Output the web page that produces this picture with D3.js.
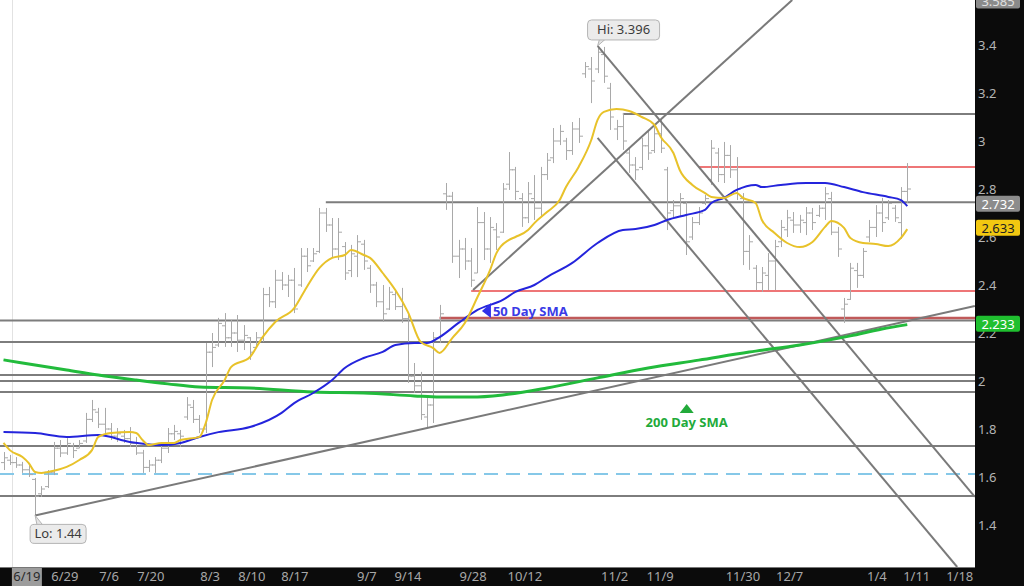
<!DOCTYPE html>
<html>
<head>
<meta charset="utf-8">
<script src="https://cdn.jsdelivr.net/npm/d3@7/dist/d3.min.js"></script>
<style>
body { margin: 0; background: #fff; }
svg { display: block; font-family: "Noto Sans", "Open Sans", sans-serif; }
</style>
</head>
<body>
<script>
// daily bars [open, high, low, close], one per trading day from 6/19
const ohlc = [
    [1.66,1.704,1.629,1.68],[1.67,1.692,1.650,1.66],[1.66,1.683,1.638,1.65],[1.65,1.663,1.617,1.63],
    [1.63,1.650,1.600,1.61],[1.59,1.596,1.440,1.52],[1.53,1.562,1.517,1.55],[1.56,1.629,1.554,1.62],
    [1.62,1.746,1.608,1.72],[1.72,1.754,1.683,1.70],[1.70,1.762,1.692,1.74],[1.73,1.742,1.679,1.71],
    [1.72,1.754,1.721,1.74],[1.75,1.867,1.742,1.84],[1.84,1.921,1.829,1.88],[1.87,1.888,1.804,1.82],
    [1.82,1.888,1.783,1.80],[1.80,1.825,1.754,1.77],[1.77,1.804,1.746,1.78],[1.77,1.796,1.742,1.76],
    [1.76,1.808,1.725,1.74],[1.74,1.767,1.692,1.70],[1.70,1.713,1.617,1.64],[1.64,1.671,1.621,1.65],
    [1.65,1.683,1.617,1.67],[1.67,1.733,1.658,1.72],[1.72,1.804,1.700,1.78],[1.78,1.817,1.754,1.79],
    [1.78,1.796,1.725,1.77],[1.85,1.933,1.838,1.90],[1.89,1.921,1.825,1.84],[1.84,1.858,1.783,1.80],
    [1.80,2.158,1.783,2.12],[2.12,2.200,2.058,2.14],[2.15,2.263,2.142,2.24],[2.23,2.283,2.142,2.18],
    [2.18,2.254,2.142,2.20],[2.20,2.275,2.121,2.17],[2.17,2.233,2.129,2.19],[2.18,2.183,2.088,2.12],
    [2.14,2.204,2.142,2.18],[2.18,2.388,2.163,2.36],[2.36,2.392,2.308,2.33],[2.33,2.463,2.304,2.42],
    [2.42,2.454,2.379,2.40],[2.40,2.442,2.350,2.42],[2.42,2.471,2.283,2.30],[2.40,2.554,2.392,2.52],
    [2.52,2.554,2.454,2.48],[2.50,2.554,2.496,2.53],[2.54,2.721,2.533,2.70],[2.70,2.721,2.621,2.65],
    [2.65,2.679,2.513,2.55],[2.55,2.679,2.504,2.62],[2.56,2.579,2.421,2.45],[2.46,2.567,2.433,2.53],
    [2.52,2.608,2.433,2.58],[2.57,2.588,2.463,2.50],[2.47,2.483,2.367,2.40],[2.40,2.413,2.308,2.33],
    [2.33,2.400,2.246,2.28],[2.30,2.392,2.296,2.37],[2.36,2.379,2.296,2.31],[2.31,2.388,2.242,2.26],
    [2.26,2.275,1.992,2.02],[2.02,2.075,1.950,1.98],[1.98,2.038,1.838,1.86],[1.85,1.929,1.808,1.90],
    [1.90,2.204,1.825,2.18],[2.18,2.317,2.158,2.28],[2.78,2.825,2.713,2.77],[2.77,2.788,2.492,2.52],
    [2.52,2.588,2.429,2.55],[2.55,2.596,2.463,2.50],[2.50,2.554,2.392,2.42],[2.45,2.725,2.450,2.66],
    [2.66,2.704,2.504,2.55],[2.55,2.683,2.492,2.64],[2.63,2.658,2.546,2.60],[2.62,2.825,2.617,2.80],
    [2.82,2.954,2.796,2.88],[2.88,2.892,2.754,2.79],[2.76,2.783,2.642,2.68],[2.68,2.829,2.658,2.78],
    [2.76,2.858,2.671,2.72],[2.72,2.892,2.683,2.86],[2.86,2.950,2.838,2.92],[2.93,3.054,2.908,3.00],
    [3.00,3.067,2.983,3.04],[3.00,3.013,2.921,2.96],[2.96,3.079,2.942,3.05],[3.05,3.096,2.992,3.02],
    [3.28,3.329,3.263,3.31],[3.30,3.350,3.158,3.25],[3.30,3.396,3.283,3.37],[3.36,3.392,3.242,3.27],
    [3.22,3.242,3.046,3.10],[3.05,3.088,3.004,3.06],[3.06,3.117,2.963,3.00],[2.95,2.975,2.867,2.90],
    [2.90,2.933,2.838,2.88],[2.89,3.013,2.879,2.98],[2.98,3.046,2.921,2.95],[2.96,3.058,2.950,3.03],
    [3.03,3.088,2.950,2.97],[2.88,2.892,2.629,2.70],[2.71,2.754,2.683,2.73],[2.73,2.783,2.683,2.76],
    [2.74,2.746,2.525,2.58],[2.60,2.683,2.588,2.66],[2.66,2.725,2.650,2.70],[2.74,2.775,2.733,2.76],
    [2.84,3.004,2.817,2.97],[2.95,2.971,2.829,2.86],[2.86,2.996,2.825,2.94],[2.94,2.983,2.846,2.88],
    [2.88,2.933,2.754,2.80],[2.76,2.783,2.483,2.54],[2.54,2.608,2.463,2.58],[2.47,2.483,2.379,2.41],
    [2.41,2.475,2.371,2.45],[2.44,2.533,2.379,2.50],[2.50,2.588,2.379,2.56],[2.58,2.671,2.558,2.64],
    [2.63,2.713,2.600,2.68],[2.67,2.704,2.617,2.65],[2.65,2.692,2.617,2.67],[2.66,2.725,2.608,2.70],
    [2.70,2.721,2.629,2.66],[2.69,2.733,2.683,2.72],[2.72,2.808,2.671,2.78],[2.76,2.788,2.608,2.62],
    [2.62,2.642,2.517,2.55],[2.30,2.346,2.242,2.32],[2.34,2.492,2.338,2.47],[2.46,2.492,2.388,2.44],
    [2.44,2.554,2.429,2.54],[2.60,2.671,2.579,2.64],[2.64,2.733,2.600,2.70],[2.70,2.763,2.621,2.66],
    [2.68,2.754,2.671,2.74],[2.72,2.733,2.663,2.68],[2.66,2.808,2.592,2.79],[2.79,2.908,2.742,2.80]
];

// moving averages as [bar index, price]
const ema = [
    [0,1.742],[1,1.712],[3,1.683],[4,1.658],[5,1.621],[6,1.617],[7,1.621],[10,1.642],[12,1.671],
    [14,1.712],[15,1.767],[17,1.783],[20,1.787],[21,1.783],[22,1.754],[23,1.733],[25,1.742],[27,1.742],
    [28,1.754],[31,1.767],[32,1.825],[33,1.921],[35,2.004],[36,2.058],[39,2.100],[41,2.183],[43,2.246],
    [46,2.304],[48,2.392],[50,2.471],[52,2.513],[54,2.525],[55,2.546],[57,2.525],[58,2.513],[60,2.450],
    [62,2.379],[64,2.287],[66,2.163],[68,2.137],[69,2.117],[71,2.179],[73,2.242],[75,2.350],[77,2.463],
    [78,2.533],[80,2.588],[81,2.600],[83,2.629],[84,2.658],[86,2.704],[88,2.754],[89,2.808],[91,2.892],
    [93,3.004],[94,3.088],[95,3.121],[97,3.133],[99,3.125],[101,3.100],[103,3.067],[104,3.017],
    [106,2.950],[107,2.879],[109,2.817],[111,2.783],[112,2.767],[114,2.763],[116,2.783],[117,2.763],
    [119,2.742],[120,2.671],[122,2.617],[124,2.575],[126,2.558],[128,2.579],[130,2.642],[131,2.667],
    [133,2.638],[134,2.596],[136,2.575],[138,2.571],[140,2.562],[142,2.596],[143,2.633]
];
const sma50 = [
    [0,1.787],[5,1.783],[10,1.767],[15,1.775],[20,1.746],[25,1.733],[28,1.742],[31,1.767],[34,1.787],
    [39,1.808],[44,1.867],[46,1.908],[49,1.950],[52,2.004],[54,2.054],[57,2.096],[60,2.121],[62,2.150],
    [65,2.158],[67,2.158],[69,2.183],[72,2.242],[75,2.296],[79,2.338],[81,2.371],[84,2.400],[86,2.433],
    [90,2.492],[94,2.575],[98,2.629],[100,2.633],[103,2.650],[105,2.671],[108,2.692],[111,2.713],
    [112,2.742],[114,2.763],[116,2.796],[119,2.817],[120,2.808],[123,2.817],[127,2.825],[130,2.825],
    [133,2.808],[136,2.787],[140,2.767],[142,2.754],[143,2.729]
];
const sma200 = [
    [0,2.088],[5,2.067],[10,2.046],[15,2.025],[21,2.004],[26,1.988],[31,1.975],[39,1.971],[49,1.954],
    [57,1.950],[65,1.938],[69,1.933],[74,1.933],[79,1.942],[86,1.971],[94,2.013],[102,2.054],
    [110,2.087],[118,2.121],[126,2.150],[134,2.188],[139,2.217],[143,2.235]
];

// support / resistance levels: [price, first bar index or null for full width]
const grayLevels = [[3.1125,98],[2.745,51],[2.252,null],[2.1625,null],[2.025,null],[2.0,null],
    [1.954,null],[1.729,null],[1.521,null]];
const redLevels = [[2.892,110],[2.375,74]];
const thickRedLevels = [[2.262,69]];
const dashedLevels = [[1.6125,null]];

// trend lines as two anchors [bar index, price]
const trendLines = [
    [[5,1.44],[153.7,2.3125]],
    [[74.3,2.379],[124.8,3.5875]],
    [[94,3.396],[153.7,1.517]],
    [[94,3.013],[150.9,1.225]]
];

const yTicks = [1.4, 1.6, 1.8, 2, 2.2, 2.4, 2.6, 2.8, 3, 3.2, 3.4];
const dateTicks = [
    ["6/19",3.7],["6/29",9.7],["7/6",16.7],["7/20",23.3],["8/3",32.7],["8/10",39.3],["8/17",46.1],
    ["9/7",57.5],["9/14",64.0],["9/28",74.3],["10/12",82.5],["11/2",96.7],["11/9",103.9],
    ["11/30",117.0],["12/7",124.4],["1/4",138.2],["1/11",144.5],["1/18",151.3]
];
const priceTags = [
    {v: 3.585, text: "3.585", fill: "#8a8a8a", color: "#e0e0e0"},
    {v: 2.739, text: "2.732", fill: "#8c8c8c", color: "#ffffff"},
    {v: 2.639, text: "2.633", fill: "#f2c811", color: "#222222"},
    {v: 2.239, text: "2.233", fill: "#1fbf2f", color: "#ffffff"}
];
const hiBar = [94, 3.396];
const loBar = [5, 1.44];

const W = 1024, H = 586, plotW = 975, plotH = 567;

const x = d3.scaleLinear().domain([-0.554, 153.72]).range([0, plotW]);
const y = d3.scaleLinear().domain([1.225, 3.5875]).range([plotH, 0]);

const svg = d3.select("body").append("svg")
    .attr("width", W)
    .attr("height", H);

svg.append("rect").attr("width", W).attr("height", H).attr("fill", "#fff");

svg.append("clipPath").attr("id", "plot")
    .append("rect").attr("width", plotW).attr("height", plotH);

let g = svg.append("g").attr("clip-path", "url(#plot)");

g.append("line")
    .attr("x1", 12.5).attr("x2", 12.5).attr("y1", 0).attr("y2", plotH)
    .attr("stroke", "#e2e2e2");

// horizontal levels
function levelLine(sel, data, color, width, dash) {
    sel.selectAll(null)
        .data(data)
        .join("line")
        .attr("x1", d => d[1] === null ? 0 : x(d[1]))
        .attr("x2", plotW)
        .attr("y1", d => y(d[0]))
        .attr("y2", d => y(d[0]))
        .attr("stroke", color)
        .attr("stroke-width", width)
        .attr("stroke-dasharray", dash || null);
}
levelLine(g, grayLevels, "#7d7d7d", 2);
levelLine(g, dashedLevels, "#86c8e8", 2, "14,8");
levelLine(g, redLevels, "#e8484a", 1.5);
levelLine(g, thickRedLevels, "#c05a5a", 2.5);

// OHLC bars
g.append("g")
    .selectAll("path")
    .data(ohlc)
    .join("path")
    .attr("d", (d, i) => {
        let cx = Math.round(x(i)) + 0.5;
        return "M" + cx + "," + y(d[1]) + "V" + y(d[2]) +
            "M" + (cx - 3.5) + "," + y(d[0]) + "H" + cx +
            "M" + cx + "," + y(d[3]) + "H" + (cx + 3.5);
    })
    .attr("fill", "none")
    .attr("stroke", "#a9a9a9")
    .attr("stroke-width", 1);

// trend lines
g.selectAll(".trend")
    .data(trendLines)
    .join("line")
    .attr("class", "trend")
    .attr("x1", d => x(d[0][0]))
    .attr("y1", d => y(d[0][1]))
    .attr("x2", d => x(d[1][0]))
    .attr("y2", d => y(d[1][1]))
    .attr("stroke", "#7a7a7a")
    .attr("stroke-width", 2);

// moving averages
let line = d3.line()
    .x(d => x(d[0]))
    .y(d => y(d[1]))
    .curve(d3.curveMonotoneX);

g.append("path").datum(sma200).attr("d", line)
    .attr("fill", "none").attr("stroke", "#22bb3c").attr("stroke-width", 3);
g.append("path").datum(sma50).attr("d", line)
    .attr("fill", "none").attr("stroke", "#2424dc").attr("stroke-width", 2);
g.append("path").datum(ema).attr("d", line)
    .attr("fill", "none").attr("stroke", "#e8c22a").attr("stroke-width", 2);

// SMA annotations
let ax = x(75.7), ay = y(2.3);
svg.append("path")
    .attr("d", `M${ax},${ay + 2}L${ax + 9},${ay - 6}L${ax + 9},${ay + 9}Z`)
    .attr("fill", "#3030e8");
svg.append("text")
    .attr("x", ax + 11).attr("y", ay + 7)
    .attr("fill", "#3a3ae6")
    .attr("font-size", 13).attr("font-weight", "bold")
    .text("50 Day SMA");

let bx = x(108.1), by = y(1.904);
svg.append("path")
    .attr("d", `M${bx},${by}L${bx + 7},${by + 9}L${bx - 7},${by + 9}Z`)
    .attr("fill", "#22aa3a");
svg.append("text")
    .attr("x", bx).attr("y", by + 23)
    .attr("text-anchor", "middle")
    .attr("fill", "#22aa3a")
    .attr("font-size", 13).attr("font-weight", "bold")
    .text("200 Day SMA");

// Hi / Lo call-outs
function callout(px, py, label, dx, dy, w, h, below) {
    let bxl = px + dx, byt = py + dy;
    let c = svg.append("g");
    let tip = below
        ? `M${px},${py}L${px + 2},${byt + 1}L${px + 8},${byt + 1}Z`
        : `M${px},${py}L${px + 2},${byt + h - 1}L${px + 8},${byt + h - 1}Z`;
    c.append("path").attr("d", tip).attr("fill", "#e6e6e6").attr("stroke", "#b5b5b5");
    c.append("rect")
        .attr("x", bxl).attr("y", byt).attr("width", w).attr("height", h).attr("rx", 4)
        .attr("fill", "#ebebeb").attr("stroke", "#b5b5b5");
    c.append("text")
        .attr("x", bxl + w / 2).attr("y", byt + h / 2 + 4.5)
        .attr("text-anchor", "middle")
        .attr("fill", "#3c3c3c").attr("font-size", 13)
        .text(label);
}
callout(x(hiBar[0]), y(hiBar[1]), "Hi: 3.396", -10, -26, 72, 20, false);
callout(x(loBar[0]), y(loBar[1]), "Lo: 1.44", -5, 9, 56, 19, true);

// right price axis
svg.append("rect").attr("x", plotW).attr("y", 0).attr("width", W - plotW).attr("height", H).attr("fill", "#0b0b0b");
// bottom date axis
svg.append("rect").attr("x", 0).attr("y", plotH).attr("width", W).attr("height", H - plotH).attr("fill", "#0b0b0b");
svg.append("line").attr("x1", 0).attr("x2", plotW).attr("y1", plotH + 0.5).attr("y2", plotH + 0.5).attr("stroke", "#777");

let yAxis = svg.append("g")
    .attr("transform", `translate(${plotW},0)`)
    .call(d3.axisRight(y).tickValues(yTicks).tickSize(0).tickPadding(3).tickFormat(d3.format("~g")));
yAxis.select(".domain").remove();
yAxis.selectAll("text")
    .attr("fill", "#b4b4b4")
    .attr("font-size", 13)
    .attr("font-family", "Noto Sans, sans-serif");

let tags = svg.append("g").selectAll("g")
    .data(priceTags)
    .join("g")
    .attr("transform", d => `translate(${plotW + 1},${y(d.v)})`);
tags.append("rect")
    .attr("x", 0).attr("y", -8).attr("width", 44).attr("height", 16).attr("rx", 2)
    .attr("fill", d => d.fill);
tags.append("text")
    .attr("x", 22).attr("y", 5)
    .attr("text-anchor", "middle")
    .attr("font-size", 13)
    .attr("fill", d => d.color)
    .text(d => d.text);

let xAxis = svg.append("g").attr("transform", `translate(0,${plotH})`);
xAxis.selectAll("rect")
    .data(dateTicks.slice(0, 1))
    .join("rect")
    .attr("x", d => x(d[1]) - 15).attr("y", 1).attr("width", 30).attr("height", H - plotH - 1)
    .attr("fill", "#9c9c9c");
xAxis.selectAll("text")
    .data(dateTicks)
    .join("text")
    .attr("x", d => x(d[1]))
    .attr("y", 14)
    .attr("text-anchor", "middle")
    .attr("font-size", 13)
    .attr("fill", (d, i) => i === 0 ? "#2a2a2a" : "#a8a8a8")
    .text(d => d[0]);
</script>
</body>
</html>
